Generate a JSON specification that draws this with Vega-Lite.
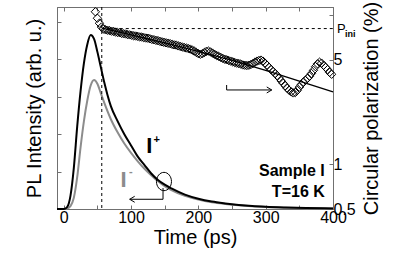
{
  "$schema": "https://vega.github.io/schema/vega-lite/v6.json",
  "width": 276,
  "height": 202,
  "autosize": {"type": "none"},
  "padding": {"left": 57, "top": 7, "right": 82, "bottom": 45},
  "config": {
    "font": "Liberation Sans",
    "view": {"stroke": "#707070", "strokeWidth": 1},
    "axis": {
      "domainColor": "#707070", "tickColor": "#707070", "grid": false,
      "labelFont": "Liberation Sans", "labelFontSize": 16, "labelColor": "black",
      "titleFont": "Liberation Sans", "titleFontSize": 20, "titleFontWeight": "normal", "titleColor": "black",
      "tickSize": -4, "labelPadding": 4
    }
  },
  "datasets": {
    "iplus": [
      {"t": -10, "i": 0}, {"t": 0, "i": 0}, {"t": 5, "i": 0.01}, {"t": 10, "i": 0.07}, {"t": 15, "i": 0.22},
      {"t": 20, "i": 0.44}, {"t": 25, "i": 0.63}, {"t": 30, "i": 0.78}, {"t": 35, "i": 0.88}, {"t": 40, "i": 0.93},
      {"t": 45, "i": 0.91}, {"t": 50, "i": 0.84}, {"t": 55, "i": 0.76}, {"t": 60, "i": 0.68}, {"t": 65, "i": 0.61},
      {"t": 70, "i": 0.55}, {"t": 80, "i": 0.47}, {"t": 90, "i": 0.40}, {"t": 100, "i": 0.34}, {"t": 110, "i": 0.28},
      {"t": 120, "i": 0.235}, {"t": 130, "i": 0.19}, {"t": 140, "i": 0.155}, {"t": 150, "i": 0.13}, {"t": 160, "i": 0.11},
      {"t": 180, "i": 0.077}, {"t": 200, "i": 0.055}, {"t": 220, "i": 0.04}, {"t": 240, "i": 0.03}, {"t": 260, "i": 0.022},
      {"t": 280, "i": 0.016}, {"t": 300, "i": 0.012}, {"t": 330, "i": 0.008}, {"t": 360, "i": 0.005}, {"t": 400, "i": 0.003}
    ],
    "iminus": [
      {"t": -10, "i": 0}, {"t": 0, "i": 0}, {"t": 5, "i": 0.002}, {"t": 10, "i": 0.015}, {"t": 15, "i": 0.06},
      {"t": 20, "i": 0.17}, {"t": 25, "i": 0.33}, {"t": 30, "i": 0.47}, {"t": 35, "i": 0.58}, {"t": 40, "i": 0.66},
      {"t": 45, "i": 0.69}, {"t": 50, "i": 0.67}, {"t": 55, "i": 0.62}, {"t": 60, "i": 0.57}, {"t": 70, "i": 0.48},
      {"t": 80, "i": 0.41}, {"t": 90, "i": 0.35}, {"t": 100, "i": 0.30}, {"t": 110, "i": 0.255}, {"t": 120, "i": 0.215},
      {"t": 130, "i": 0.18}, {"t": 140, "i": 0.148}, {"t": 150, "i": 0.122}, {"t": 160, "i": 0.101}, {"t": 180, "i": 0.07},
      {"t": 200, "i": 0.05}, {"t": 220, "i": 0.036}, {"t": 240, "i": 0.027}, {"t": 260, "i": 0.02}, {"t": 280, "i": 0.015},
      {"t": 300, "i": 0.011}, {"t": 330, "i": 0.007}, {"t": 360, "i": 0.0045}, {"t": 400, "i": 0.0028}
    ],
    "pol": [
      {"t": 47, "v": 10.5}, {"t": 50, "v": 9.5}, {"t": 53, "v": 8.8}, {"t": 56, "v": 8.3}, {"t": 59, "v": 8.05},
      {"t": 62, "v": 7.95}, {"t": 65, "v": 7.9}, {"t": 68, "v": 7.85}, {"t": 71, "v": 7.78}, {"t": 74, "v": 7.75},
      {"t": 77, "v": 7.68}, {"t": 80, "v": 7.62}, {"t": 83, "v": 7.6}, {"t": 86, "v": 7.52}, {"t": 89, "v": 7.48},
      {"t": 92, "v": 7.45}, {"t": 95, "v": 7.38}, {"t": 98, "v": 7.35}, {"t": 101, "v": 7.3}, {"t": 104, "v": 7.25},
      {"t": 107, "v": 7.22}, {"t": 110, "v": 7.18}, {"t": 113, "v": 7.12}, {"t": 116, "v": 7.1}, {"t": 119, "v": 7.05},
      {"t": 122, "v": 7.0}, {"t": 125, "v": 6.98}, {"t": 128, "v": 6.92}, {"t": 131, "v": 6.85}, {"t": 134, "v": 6.82},
      {"t": 137, "v": 6.75}, {"t": 140, "v": 6.72}, {"t": 143, "v": 6.65}, {"t": 146, "v": 6.6}, {"t": 149, "v": 6.55},
      {"t": 152, "v": 6.5}, {"t": 155, "v": 6.45}, {"t": 158, "v": 6.42}, {"t": 161, "v": 6.35}, {"t": 164, "v": 6.3},
      {"t": 167, "v": 6.28}, {"t": 170, "v": 6.2}, {"t": 173, "v": 6.15}, {"t": 176, "v": 6.1}, {"t": 179, "v": 6.05},
      {"t": 182, "v": 6.0}, {"t": 185, "v": 5.95}, {"t": 188, "v": 5.9}, {"t": 191, "v": 5.82}, {"t": 194, "v": 5.72},
      {"t": 197, "v": 5.6}, {"t": 200, "v": 5.5}, {"t": 203, "v": 5.45}, {"t": 206, "v": 5.5}, {"t": 209, "v": 5.6},
      {"t": 212, "v": 5.7}, {"t": 215, "v": 5.72}, {"t": 218, "v": 5.65}, {"t": 221, "v": 5.55}, {"t": 224, "v": 5.45},
      {"t": 227, "v": 5.35}, {"t": 230, "v": 5.28}, {"t": 233, "v": 5.2}, {"t": 236, "v": 5.12}, {"t": 239, "v": 5.05},
      {"t": 242, "v": 5.0}, {"t": 245, "v": 4.95}, {"t": 248, "v": 4.9}, {"t": 251, "v": 4.85}, {"t": 254, "v": 4.8},
      {"t": 257, "v": 4.75}, {"t": 260, "v": 4.72}, {"t": 263, "v": 4.68}, {"t": 266, "v": 4.62}, {"t": 269, "v": 4.6},
      {"t": 272, "v": 4.58}, {"t": 275, "v": 4.6}, {"t": 278, "v": 4.65}, {"t": 281, "v": 4.72}, {"t": 284, "v": 4.82},
      {"t": 287, "v": 4.9}, {"t": 290, "v": 4.95}, {"t": 293, "v": 4.98}, {"t": 296, "v": 4.9}, {"t": 299, "v": 4.75},
      {"t": 302, "v": 4.6}, {"t": 305, "v": 4.45}, {"t": 308, "v": 4.3}, {"t": 311, "v": 4.18}, {"t": 314, "v": 4.05},
      {"t": 317, "v": 3.92}, {"t": 320, "v": 3.78}, {"t": 323, "v": 3.62}, {"t": 326, "v": 3.48}, {"t": 329, "v": 3.35},
      {"t": 332, "v": 3.22}, {"t": 335, "v": 3.12}, {"t": 338, "v": 3.05}, {"t": 341, "v": 3.0}, {"t": 344, "v": 3.02},
      {"t": 347, "v": 3.12}, {"t": 350, "v": 3.28}, {"t": 353, "v": 3.42}, {"t": 356, "v": 3.55}, {"t": 359, "v": 3.65},
      {"t": 362, "v": 3.75}, {"t": 365, "v": 3.88}, {"t": 368, "v": 4.05}, {"t": 371, "v": 4.25}, {"t": 374, "v": 4.5},
      {"t": 377, "v": 4.7}, {"t": 380, "v": 4.82}, {"t": 383, "v": 4.75}, {"t": 386, "v": 4.6}, {"t": 389, "v": 4.45},
      {"t": 392, "v": 4.3}, {"t": 395, "v": 4.12}, {"t": 398, "v": 4.0}
    ],
    "fit": [
      {"t": 57, "v": 8.15}, {"t": 100, "v": 7.35}, {"t": 150, "v": 6.5}, {"t": 200, "v": 5.7},
      {"t": 250, "v": 4.95}, {"t": 300, "v": 4.25}, {"t": 350, "v": 3.6}, {"t": 400, "v": 3.05}
    ]
  },
  "layer": [
    {
      "encoding": {
        "x": {
          "field": "t", "type": "quantitative",
          "scale": {"domain": [-10, 400], "nice": false, "zero": false},
          "axis": {
            "orient": "bottom", "title": "Time (ps)",
            "values": [0, 50, 100, 150, 200, 250, 300, 350, 400],
            "labelExpr": "datum.value % 100 === 0 ? datum.label : ''",
            "labelFlush": false, "titlePadding": 2
          }
        }
      },
      "layer": [
        {
          "data": {"name": "iminus"},
          "mark": {"type": "line", "color": "#8c8c8c", "strokeWidth": 2, "interpolate": "monotone"},
          "encoding": {
            "y": {
              "field": "i", "type": "quantitative",
              "scale": {"domain": [0, 1.08], "nice": false, "zero": false},
              "axis": {
                "orient": "left", "title": "PL Intensity (arb. u.)",
                "values": [0, 0.1, 0.2, 0.3, 0.4, 0.5, 0.6, 0.7, 0.8, 0.9, 1.0],
                "labels": false, "titlePadding": 12
              }
            }
          }
        },
        {
          "data": {"name": "iplus"},
          "mark": {"type": "line", "color": "black", "strokeWidth": 2, "interpolate": "monotone"},
          "encoding": {"y": {"field": "i", "type": "quantitative"}}
        },
        {
          "data": {"values": [{"t": 56.5}]},
          "mark": {"type": "rule", "color": "black", "strokeWidth": 1, "strokeDash": [3, 3]},
          "encoding": {}
        },
        {
          "data": {"values": [{"t": 148.9, "i": 0.147}]},
          "mark": {"type": "point", "shape": "M -0.82 0 A 0.82 1 0 1 0 0.82 0 A 0.82 1 0 1 0 -0.82 0", "size": 335, "filled": false, "color": "black", "strokeWidth": 1, "opacity": 1},
          "encoding": {"y": {"field": "i", "type": "quantitative"}}
        },
        {
          "data": {"values": [{"t": 147.5, "i": 0.112, "i2": 0.052}]},
          "mark": {"type": "rule", "color": "black", "strokeWidth": 1},
          "encoding": {"y": {"field": "i", "type": "quantitative"}, "y2": {"field": "i2"}}
        },
        {
          "data": {"values": [{"t": 98, "t2": 147.5, "i": 0.052}]},
          "mark": {"type": "rule", "color": "black", "strokeWidth": 1},
          "encoding": {"x2": {"field": "t2"}, "y": {"field": "i", "type": "quantitative"}}
        },
        {
          "data": {"values": [{"t": 98, "i": 0.052}]},
          "mark": {"type": "point", "shape": "M 1 -0.6 L 0 0 L 1 0.6", "size": 100, "filled": false, "color": "black", "strokeWidth": 1, "opacity": 1},
          "encoding": {"y": {"field": "i", "type": "quantitative"}}
        },
        {
          "data": {"values": [{"t": 127, "i": 0.30, "txt": "I"}]},
          "mark": {"type": "text", "fontSize": 22, "fontWeight": "bold", "color": "black", "align": "center", "baseline": "alphabetic"},
          "encoding": {"y": {"field": "i", "type": "quantitative"}, "text": {"field": "txt"}}
        },
        {
          "data": {"values": [{"t": 138, "i": 0.369, "txt": "+"}]},
          "mark": {"type": "text", "fontSize": 11, "fontWeight": "bold", "color": "black", "align": "center", "baseline": "middle"},
          "encoding": {"y": {"field": "i", "type": "quantitative"}, "text": {"field": "txt"}}
        },
        {
          "data": {"values": [{"t": 88.9, "i": 0.119, "txt": "I"}]},
          "mark": {"type": "text", "fontSize": 22, "fontWeight": "bold", "color": "#8c8c8c", "align": "center", "baseline": "alphabetic"},
          "encoding": {"y": {"field": "i", "type": "quantitative"}, "text": {"field": "txt"}}
        },
        {
          "data": {"values": [{"t": 99.5, "i": 0.2, "txt": "-"}]},
          "mark": {"type": "text", "fontSize": 11, "fontWeight": "bold", "color": "#8c8c8c", "align": "center", "baseline": "middle"},
          "encoding": {"y": {"field": "i", "type": "quantitative"}, "text": {"field": "txt"}}
        },
        {
          "data": {"values": [{"t": 387.8, "i": 0.174, "txt": "Sample I"}, {"t": 387.8, "i": 0.066, "txt": "T=16 K"}]},
          "mark": {"type": "text", "fontSize": 16, "fontWeight": "bold", "color": "black", "align": "right", "baseline": "alphabetic"},
          "encoding": {"y": {"field": "i", "type": "quantitative"}, "text": {"field": "txt"}}
        }
      ]
    },
    {
      "encoding": {
        "x": {
          "field": "t", "type": "quantitative",
          "scale": {"domain": [-10, 400], "nice": false, "zero": false},
          "axis": {
            "orient": "top", "title": null, "labels": false,
            "values": [0, 50, 100, 150, 200, 250, 300, 350, 400]
          }
        }
      },
      "layer": [
        {
          "data": {"name": "fit"},
          "mark": {"type": "line", "color": "black", "strokeWidth": 1.3},
          "encoding": {
            "y": {
              "field": "v", "type": "quantitative",
              "scale": {"type": "log", "domain": [0.5, 11.3], "nice": false},
              "axis": {
                "orient": "right", "title": "Circular polarization (%)",
                "values": [0.5, 1, 5, 10], "format": "~g",
                "labelExpr": "datum.value === 10 ? '' : datum.label",
                "titleAngle": -90, "titleBaseline": "top", "titlePadding": 6
              }
            }
          }
        },
        {
          "data": {"name": "pol"},
          "mark": {"type": "point", "shape": "diamond", "size": 70, "filled": false, "color": "black", "strokeWidth": 1, "opacity": 1},
          "encoding": {"y": {"field": "v", "type": "quantitative"}}
        },
        {
          "data": {"values": [{"t": 56.5, "t2": 400, "v": 8.1}]},
          "mark": {"type": "rule", "color": "black", "strokeWidth": 1, "strokeDash": [3, 3]},
          "encoding": {"x2": {"field": "t2"}, "y": {"field": "v", "type": "quantitative"}}
        },
        {
          "data": {"values": [{"t": 242, "v": 3.39, "v2": 3.14}]},
          "mark": {"type": "rule", "color": "black", "strokeWidth": 1},
          "encoding": {"y": {"field": "v", "type": "quantitative"}, "y2": {"field": "v2"}}
        },
        {
          "data": {"values": [{"t": 242, "t2": 309, "v": 3.14}]},
          "mark": {"type": "rule", "color": "black", "strokeWidth": 1},
          "encoding": {"x2": {"field": "t2"}, "y": {"field": "v", "type": "quantitative"}}
        },
        {
          "data": {"values": [{"t": 309, "v": 3.14}]},
          "mark": {"type": "point", "shape": "M -1 -0.6 L 0 0 L -1 0.6", "size": 100, "filled": false, "color": "black", "strokeWidth": 1, "opacity": 1},
          "encoding": {"y": {"field": "v", "type": "quantitative"}}
        },
        {
          "data": {"values": [{"t": 400, "v": 7.54, "txt": "P"}]},
          "mark": {"type": "text", "fontSize": 13, "color": "black", "align": "left", "baseline": "alphabetic", "dx": 4},
          "encoding": {"y": {"field": "v", "type": "quantitative"}, "text": {"field": "txt"}}
        },
        {
          "data": {"values": [{"t": 400, "v": 7.15, "txt": "ini"}]},
          "mark": {"type": "text", "fontSize": 9, "fontWeight": "bold", "color": "black", "align": "left", "baseline": "alphabetic", "dx": 12},
          "encoding": {"y": {"field": "v", "type": "quantitative"}, "text": {"field": "txt"}}
        }
      ]
    }
  ],
  "resolve": {"scale": {"y": "independent"}, "axis": {"x": "independent", "y": "independent"}}
}
